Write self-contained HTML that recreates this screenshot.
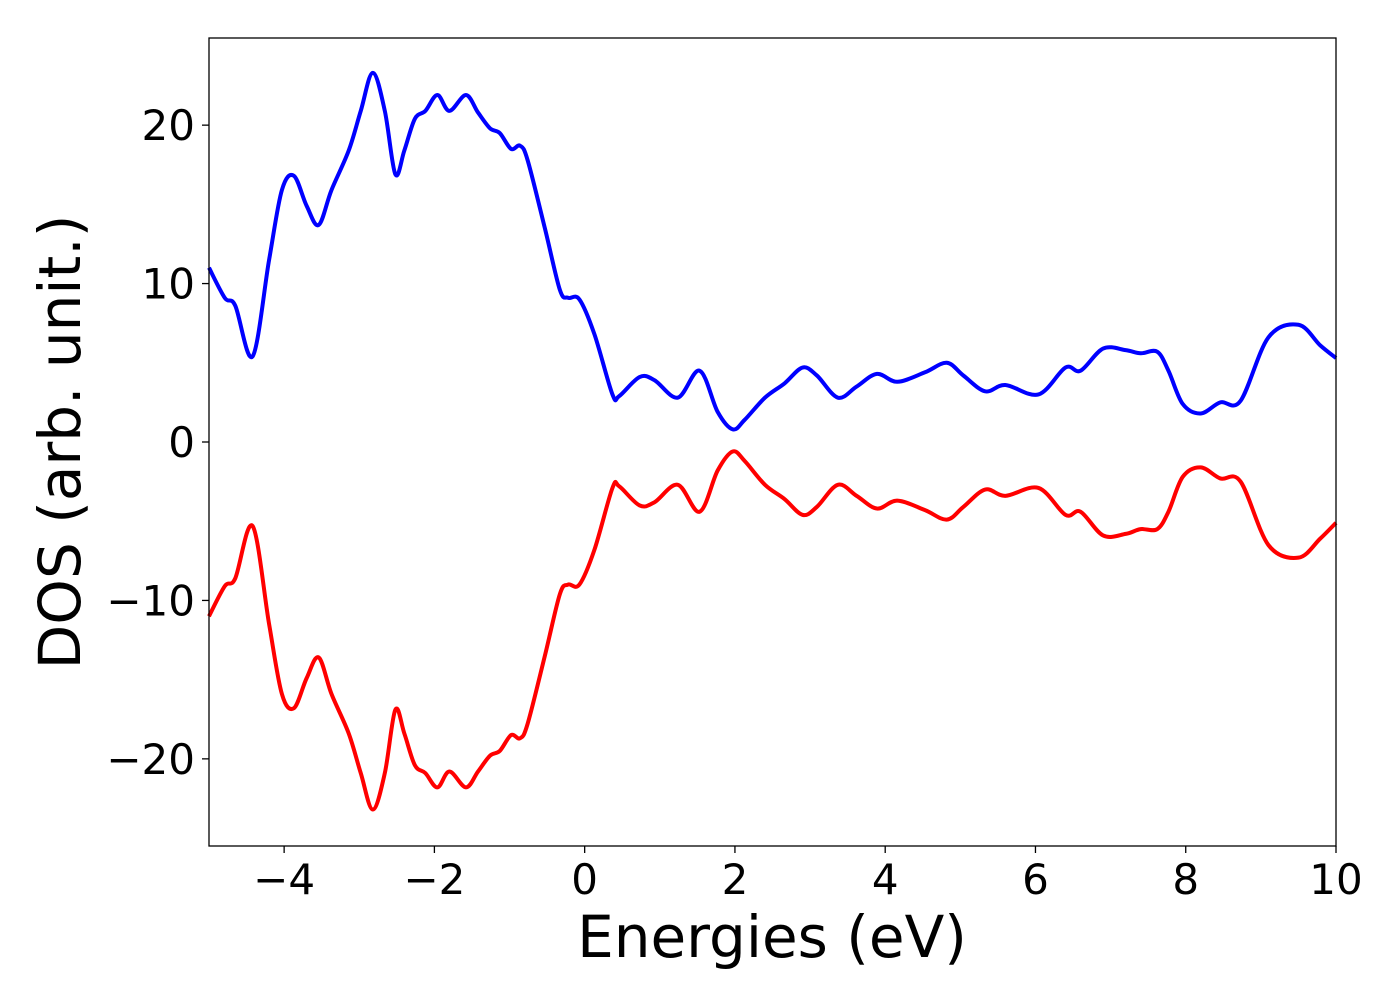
<!DOCTYPE html>
<html><head><meta charset="utf-8"><style>
body{margin:0;background:#fff;}
svg text{font-family:"DejaVu Sans","Liberation Sans",sans-serif;fill:#000;}
</style></head><body>
<svg id="chart" width="1400" height="1000" xmlns="http://www.w3.org/2000/svg">
<rect width="1400" height="1000" fill="#fff"/>
<g id="plot"></g>
<rect x="209" y="38" width="1127" height="808" fill="none" stroke="#000" stroke-width="1.3"/>
<g id="xticks"></g><g id="yticks"></g>
<text x="772" y="957" font-size="58" text-anchor="middle">Energies (eV)</text>
<text transform="translate(80,442) rotate(-90)" font-size="58" text-anchor="middle">DOS (arb. unit.)</text>
</svg>
<script>
const energies=[-5,-4.79,-4.65,-4.42,-4.2,-4.03,-3.87,-3.7,-3.54,-3.37,-3.14,-2.98,-2.82,-2.66,-2.52,-2.4,-2.26,-2.12,-1.96,-1.8,-1.58,-1.42,-1.26,-1.13,-0.98,-0.86,-0.76,-0.53,-0.33,-0.22,-0.07,0.13,0.37,0.46,0.73,0.93,1.24,1.53,1.77,1.97,2.13,2.4,2.66,2.9,3.09,3.37,3.62,3.89,4.16,4.53,4.82,5.04,5.33,5.6,6.04,6.4,6.6,6.9,7.2,7.4,7.62,7.77,7.96,8.2,8.46,8.73,9.1,9.5,9.79,10];
const dosUp=[11.0,9.1,8.6,5.4,11.5,15.9,16.8,14.9,13.7,15.9,18.4,20.9,23.3,20.9,16.9,18.4,20.4,20.9,21.9,20.9,21.9,20.8,19.8,19.5,18.5,18.7,17.8,13.5,9.6,9.1,9.0,6.8,3.0,2.9,4.1,3.9,2.8,4.5,1.9,0.8,1.4,2.8,3.7,4.7,4.2,2.8,3.5,4.3,3.8,4.4,5.0,4.2,3.2,3.6,3.0,4.7,4.5,5.9,5.8,5.6,5.7,4.5,2.4,1.8,2.5,2.6,6.6,7.4,6.1,5.3];
const dosDown=[-11.0,-9.1,-8.6,-5.3,-11.5,-15.9,-16.8,-14.9,-13.6,-15.9,-18.4,-20.9,-23.2,-20.9,-16.9,-18.4,-20.4,-20.9,-21.8,-20.8,-21.8,-20.8,-19.8,-19.5,-18.5,-18.7,-17.8,-13.5,-9.6,-9.0,-9.0,-6.8,-2.9,-2.8,-4.0,-3.8,-2.7,-4.4,-1.8,-0.6,-1.2,-2.7,-3.6,-4.6,-4.1,-2.7,-3.4,-4.2,-3.7,-4.3,-4.9,-4.1,-3.0,-3.4,-2.9,-4.6,-4.4,-5.9,-5.8,-5.5,-5.5,-4.4,-2.2,-1.6,-2.3,-2.5,-6.5,-7.3,-6.1,-5.1];
const xTicks=[-4,-2,0,2,4,6,8,10];
const yTicks=[-20,-10,0,10,20];
const X0=-5,X1=10,Y0=-25.5,Y1=25.5,L=209,R=1336,T=38,B=846;
const sx=v=>L+(v-X0)/(X1-X0)*(R-L);
const sy=v=>B-(v-Y0)/(Y1-Y0)*(B-T);
const NS="http://www.w3.org/2000/svg";
const fmt=v=>v<0?"\u2212"+Math.abs(v):String(v);
function pathFor(xs,ys){
  const p=xs.map((x,i)=>[sx(x),sy(ys[i])]);
  let d="M"+p[0][0]+","+p[0][1];
  for(let i=0;i<p.length-1;i++){
    const a=p[i-1]||p[i],b=p[i],c=p[i+1],e=p[i+2]||c;
    d+=" C"+(b[0]+(c[0]-a[0])/6)+","+(b[1]+(c[1]-a[1])/6)+" "+(c[0]-(e[0]-b[0])/6)+","+(c[1]-(e[1]-b[1])/6)+" "+c[0]+","+c[1];
  }
  return d;
}
const plot=document.getElementById("plot");
const up=document.createElementNS(NS,"path");


up.setAttribute("d",pathFor(energies,dosUp));
up.setAttribute("fill","none");up.setAttribute("stroke","#0000ff");up.setAttribute("stroke-width","4");
plot.appendChild(up);
const dn=document.createElementNS(NS,"path");


dn.setAttribute("d",pathFor(energies,dosDown));
dn.setAttribute("fill","none");dn.setAttribute("stroke","#ff0000");dn.setAttribute("stroke-width","4");
plot.appendChild(dn);
const xg=document.getElementById("xticks");
xTicks.forEach(v=>{
  const l=document.createElementNS(NS,"line");
  
  
  l.setAttribute("x1",sx(v));l.setAttribute("x2",sx(v));l.setAttribute("y1",B);l.setAttribute("y2",B+7);l.setAttribute("stroke","#000");l.setAttribute("stroke-width","1.3");
  xg.appendChild(l);
  const t=document.createElementNS(NS,"text");
  
  
  t.setAttribute("x",sx(v));t.setAttribute("y",B+48);t.setAttribute("font-size","42");t.setAttribute("text-anchor","middle");
  t.textContent=fmt(v);xg.appendChild(t);
});
const yg=document.getElementById("yticks");
yTicks.forEach(v=>{
  const l=document.createElementNS(NS,"line");
  
  
  l.setAttribute("x1",L-7);l.setAttribute("x2",L);l.setAttribute("y1",sy(v));l.setAttribute("y2",sy(v));l.setAttribute("stroke","#000");l.setAttribute("stroke-width","1.3");
  yg.appendChild(l);
  const t=document.createElementNS(NS,"text");
  
  
  t.setAttribute("x",L-14);t.setAttribute("y",sy(v)+15);t.setAttribute("font-size","42");t.setAttribute("text-anchor","end");
  t.textContent=fmt(v);yg.appendChild(t);
});
</script>
</body></html>
